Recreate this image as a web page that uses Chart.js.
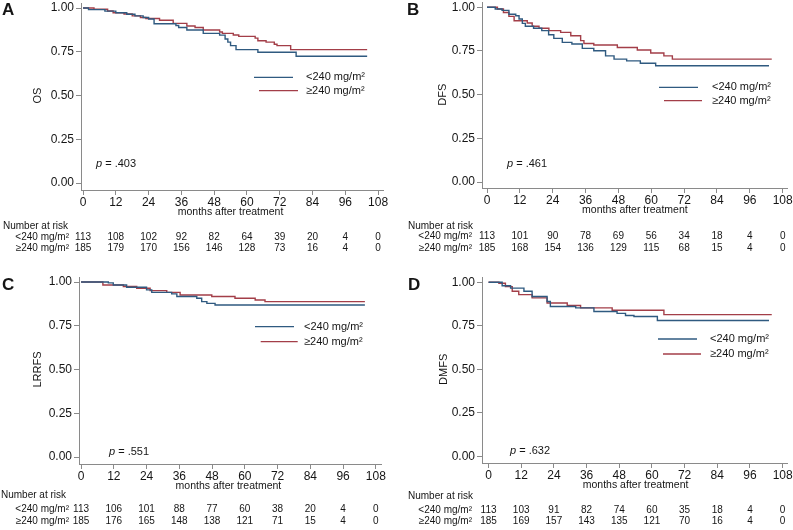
<!DOCTYPE html>
<html><head><meta charset="utf-8">
<script src="https://cdn.jsdelivr.net/npm/chart.js@4"></script>
<style>
html,body{margin:0;padding:0;background:#fff;}
#wrap{position:relative;width:793px;height:530px;overflow:hidden;background:#fff;}
canvas{position:absolute;left:0;top:0;}
</style></head><body><div id="wrap">
<canvas id="cA" width="793" height="530"></canvas>
<canvas id="cB" width="793" height="530"></canvas>
<canvas id="cC" width="793" height="530"></canvas>
<canvas id="cD" width="793" height="530"></canvas>
</div>
<script>
// ---- data ----
const timeTicks = [0, 12, 24, 36, 48, 60, 72, 84, 96, 108];
const yTicks = [0, 0.25, 0.5, 0.75, 1];
const groupLabels = ['<240 mg/m²', '≥240 mg/m²'];
const xTitle = 'months after treatment';
const riskTitle = 'Number at risk';

// OS
const osLow = [[0,1],[2,0.991],[8,0.982],[12,0.973],[16,0.964],[19,0.955],[22,0.946],[24,0.937],[26,0.91],[34,0.9],[35,0.889],[38,0.874],[44,0.855],[50,0.845],[52,0.823],[53,0.805],[54,0.785],[56,0.762],[64,0.747],[78,0.724],[104,0.724]];
const osHigh = [[0,1],[4,0.993],[9,0.983],[11,0.973],[15,0.966],[18,0.955],[21,0.946],[23,0.94],[28,0.93],[33,0.912],[38,0.897],[41,0.889],[44,0.874],[50,0.863],[51,0.855],[55,0.846],[57,0.838],[63,0.828],[64,0.813],[67,0.805],[70,0.793],[71,0.785],[76,0.762],[104,0.762]];
const osRiskLow = [113,108,102,92,82,64,39,20,4,0];
const osRiskHigh = [185,179,170,156,146,128,73,16,4,0];

// DFS
const dfsLow = [[0,1],[3,0.99],[5.5,0.982],[8,0.96],[10.5,0.951],[11.7,0.933],[12.9,0.908],[14,0.891],[17,0.88],[20,0.866],[22.5,0.843],[24.4,0.822],[27.5,0.799],[31,0.79],[34.8,0.765],[39,0.751],[43.3,0.722],[46.4,0.703],[51,0.693],[56,0.68],[61.6,0.665],[103,0.665]];
const dfsHigh = [[0,1],[3.8,0.99],[6,0.97],[8,0.948],[9.9,0.923],[14.7,0.91],[16.5,0.891],[19,0.88],[22.6,0.866],[26.9,0.856],[30.6,0.837],[34.2,0.809],[35.4,0.793],[39,0.784],[47.6,0.77],[54.9,0.755],[59.8,0.738],[64.6,0.722],[67.7,0.703],[104,0.703]];
const dfsRiskLow = [113,101,90,78,69,56,34,18,4,0];
const dfsRiskHigh = [185,168,154,136,129,115,68,15,4,0];

// LRRFS
const lrrfsLow = [[0,1],[10,0.995],[11.8,0.983],[16.7,0.97],[24,0.955],[25.9,0.941],[33.2,0.932],[35.1,0.917],[42.4,0.907],[44.2,0.888],[46.1,0.878],[49.1,0.869],[104,0.869]];
const lrrfsHigh = [[0,1],[8,0.983],[15.5,0.974],[20.4,0.964],[25.3,0.951],[31.4,0.941],[36.3,0.926],[47.9,0.917],[56.4,0.907],[63.8,0.897],[67.4,0.888],[104,0.888]];
const lrrfsRiskLow = [113,106,101,88,77,60,38,20,4,0];
const lrrfsRiskHigh = [185,176,165,148,138,121,71,15,4,0];

// DMFS
const dmfsLow = [[0,1],[5,0.98],[8.1,0.966],[13,0.948],[16,0.918],[21.5,0.889],[22.7,0.861],[32,0.853],[38.7,0.832],[47.2,0.821],[50.3,0.809],[53.4,0.803],[62,0.78],[103,0.78]];
const dmfsHigh = [[0,1],[3.8,0.994],[6.2,0.975],[8.7,0.948],[11.1,0.929],[16,0.91],[21.5,0.881],[28.9,0.866],[33.8,0.853],[45.4,0.839],[64.4,0.814],[104,0.814]];
const dmfsRiskLow = [113,103,91,82,74,60,35,18,4,0];
const dmfsRiskHigh = [185,169,157,143,135,121,70,16,4,0];

const pValues = ['.403', '.461', '.551', '.632'];
const yTitles = ['OS', 'DFS', 'LRRFS', 'DMFS'];
const letters = ['A', 'B', 'C', 'D'];

// ---- layout / style ----
const FONT = '"Liberation Sans", Arial, Helvetica, sans-serif';
const BLUE = '#2f5a80';
const RED = '#a33e48';
const AXIS = '#8a8a8a';
const TEXT = '#151515';

const panels = [
  {id:'cA', k:0, low:osLow, high:osHigh, rl:osRiskLow, rh:osRiskHigh,
   area:{l:81,t:3,r:383,b:190}, xr:[-0.75,109.8], yr:[-0.04,1.0286],
   lx:2, ly:15, ytx:38, px:96, py:164,
   leg:{b:[254,293,77.3], r:[259,298,90.7], tx:306},
   head:[3,226], labR:69, rows:[237.3,248.7]},
  {id:'cB', k:1, low:dfsLow, high:dfsHigh, rl:dfsRiskLow, rh:dfsRiskHigh,
   area:{l:482,t:2,r:787,b:188}, xr:[-1.83,109.57], yr:[-0.034,1.03],
   lx:407, ly:15, ytx:443, px:507, py:164,
   leg:{b:[659,698,87.3], r:[664,702,100.7], tx:712},
   head:[408,226], labR:472, rows:[236.7,248.3]},
  {id:'cC', k:2, low:lrrfsLow, high:lrrfsHigh, rl:lrrfsRiskLow, rh:lrrfsRiskHigh,
   area:{l:79,t:277,r:381,b:464}, xr:[-0.75,109.9], yr:[-0.04,1.0286],
   lx:2, ly:290, ytx:38, px:109, py:451.7,
   leg:{b:[255,294,326.7], r:[260.7,297.7,341.7], tx:304},
   head:[1,495.5], labR:69, rows:[509.5,521.5]},
  {id:'cD', k:3, low:dmfsLow, high:dmfsHigh, rl:dmfsRiskLow, rh:dmfsRiskHigh,
   area:{l:482,t:277,r:787,b:463}, xr:[-2.4,109.6], yr:[-0.038,1.03],
   lx:408, ly:290, ytx:444, px:510, py:451,
   leg:{b:[658,697,339], r:[663,701,354], tx:710},
   head:[408,496.5], labR:472, rows:[510,521.5]}
];

function makeExtras(p) {
  return {
    id: 'extras' + p.k,
    afterDraw(chart) {
      const ctx = chart.ctx;
      const xs = chart.scales.x, ys = chart.scales.y;
      ctx.save();
      ctx.fillStyle = TEXT;
      // panel letter
      ctx.font = 'bold 17px ' + FONT;
      ctx.textAlign = 'left'; ctx.textBaseline = 'alphabetic';
      ctx.fillText(letters[p.k], p.lx, p.ly);
      // y title
      ctx.font = '11px ' + FONT;
      ctx.save();
      ctx.translate(p.ytx, (ys.getPixelForValue(0) + ys.getPixelForValue(1)) / 2);
      ctx.rotate(-Math.PI / 2);
      ctx.textAlign = 'center'; ctx.textBaseline = 'middle';
      ctx.fillText(yTitles[p.k], 0, 0);
      ctx.restore();
      // x title
      ctx.font = '10.5px ' + FONT;
      ctx.textAlign = 'center'; ctx.textBaseline = 'middle';
      ctx.fillText(xTitle, xs.getPixelForValue(54), chart.chartArea.bottom + 22.5);
      // legend
      ctx.lineWidth = 1.3;
      [[p.leg.b, BLUE], [p.leg.r, RED]].forEach(([seg, col], i) => {
        ctx.strokeStyle = col;
        ctx.beginPath(); ctx.moveTo(seg[0], seg[2]); ctx.lineTo(seg[1], seg[2]); ctx.stroke();
        ctx.font = '11px ' + FONT;
        ctx.textAlign = 'left'; ctx.textBaseline = 'middle';
        ctx.fillText(groupLabels[i], p.leg.tx, seg[2]);
      });
      // p value
      ctx.textAlign = 'left'; ctx.textBaseline = 'middle';
      ctx.font = 'italic 11px ' + FONT;
      ctx.fillText('p', p.px, p.py);
      const w = ctx.measureText('p').width;
      ctx.font = '11px ' + FONT;
      ctx.fillText(' = ' + pValues[p.k], p.px + w, p.py);
      // risk table
      ctx.font = '10px ' + FONT;
      ctx.fillText(riskTitle, p.head[0], p.head[1]);
      ctx.textAlign = 'right';
      groupLabels.forEach((g, i) => ctx.fillText(g, p.labR, p.rows[i]));
      ctx.textAlign = 'center';
      [p.rl, p.rh].forEach((row, i) => row.forEach((n, j) =>
        ctx.fillText(String(n), xs.getPixelForValue(timeTicks[j]), p.rows[i])));
      ctx.restore();
    }
  };
}

function zeroPad(s) { s.paddingTop = 0; s.paddingBottom = 0; s.paddingLeft = 0; s.paddingRight = 0; }

panels.forEach(p => {
  const a = p.area;
  new Chart(document.getElementById(p.id), {
    type: 'line',
    data: {
      datasets: [
        {label: groupLabels[0], data: p.low.map(([x, y]) => ({x, y})), borderColor: BLUE, borderWidth: 1.4, stepped: true, pointRadius: 0, fill: false},
        {label: groupLabels[1], data: p.high.map(([x, y]) => ({x, y})), borderColor: RED, borderWidth: 1.4, stepped: true, pointRadius: 0, fill: false}
      ]
    },
    options: {
      responsive: false, animation: false, devicePixelRatio: 1,
      layout: {padding: {left: 0, top: a.t, right: 793 - a.r, bottom: 0}},
      plugins: {legend: {display: false}, tooltip: {enabled: false}},
      scales: {
        x: {
          type: 'linear', min: p.xr[0], max: p.xr[1],
          afterBuildTicks: s => { s.ticks = timeTicks.map(v => ({value: v})); },
          afterFit: s => { s.height = 530 - a.b; zeroPad(s); },
          ticks: {autoSkip: false, maxRotation: 0, padding: 0, color: TEXT, font: {family: FONT, size: 12}, callback: v => String(v)},
          grid: {drawOnChartArea: false, drawTicks: true, tickLength: 5, color: AXIS},
          border: {display: true, color: AXIS, width: 1}
        },
        y: {
          type: 'linear', min: p.yr[0], max: p.yr[1],
          afterBuildTicks: s => { s.ticks = yTicks.map(v => ({value: v})); },
          afterFit: s => { s.width = a.l; zeroPad(s); },
          ticks: {padding: 2, color: TEXT, font: {family: FONT, size: 12}, callback: v => Number(v).toFixed(2)},
          grid: {drawOnChartArea: false, drawTicks: true, tickLength: 5, color: AXIS},
          border: {display: true, color: AXIS, width: 1}
        }
      }
    },
    plugins: [makeExtras(p)]
  });
});
</script>
</body></html>
